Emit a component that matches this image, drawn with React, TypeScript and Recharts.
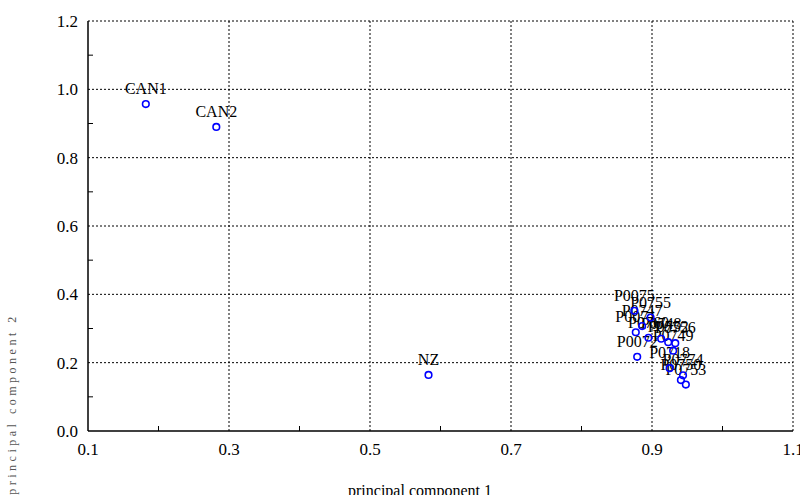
import { ScatterChart, Scatter, XAxis, YAxis, ReferenceLine } from 'recharts'

// sample names and their loadings on the first two principal components
const names = [
  'CAN1', 'CAN2', 'NZ',
  'P0075', 'P0755', 'P0747', 'P0071', 'P0760', 'P0748', 'P0752', 'P0756',
  'P0749', 'P0072', 'P0718', 'P0774', 'P0750', 'P0753',
]
const pc1 = [
  0.182, 0.282, 0.583,
  0.875, 0.898, 0.886, 0.877, 0.895, 0.913, 0.923, 0.933,
  0.930, 0.879, 0.925, 0.944, 0.941, 0.948,
]
const pc2 = [
  0.957, 0.89, 0.164,
  0.352, 0.332, 0.307, 0.289, 0.273, 0.270, 0.260, 0.257,
  0.235, 0.217, 0.184, 0.163, 0.149, 0.136,
]

const xMajor = [0.1, 0.3, 0.5, 0.7, 0.9, 1.1]
const xMinor = [0.2, 0.4, 0.6, 0.8, 1.0]
const yMajor = [0, 0.2, 0.4, 0.6, 0.8, 1.0, 1.2]
const yMinor = [0.1, 0.3, 0.5, 0.7, 0.9, 1.1]

const xTicks = [...xMajor, ...xMinor].sort((a, b) => a - b)
const yTicks = [...yMajor, ...yMinor].sort((a, b) => a - b)

const points = names.map((name, i) => ({ name, x: pc1[i], y: pc2[i] }))

const font = '"Liberation Serif", "Times New Roman", serif'

function BottomTick({ x, y, payload }: any) {
  if (xMinor.includes(payload.value)) {
    return <line x1={x} x2={x} y1={y} y2={y - 5} stroke="#000" />
  }
  return (
    <text x={x} y={y + 24} textAnchor="middle" fontSize={17} fontFamily={font} fill="#000">
      {payload.value.toFixed(1)}
    </text>
  )
}

function LeftTick({ x, y, payload }: any) {
  if (yMinor.includes(payload.value)) {
    return <line x1={x} x2={x + 5} y1={y} y2={y} stroke="#000" />
  }
  return (
    <text x={x - 10} y={y + 6} textAnchor="end" fontSize={17} fontFamily={font} fill="#000">
      {payload.value.toFixed(1)}
    </text>
  )
}

function TopTick({ x, y, payload }: any) {
  if (!xMinor.includes(payload.value)) return <g />
  return <line x1={x} x2={x} y1={y} y2={y + 5} stroke="#000" />
}

function RightTick({ x, y, payload }: any) {
  if (!yMinor.includes(payload.value)) return <g />
  return <line x1={x} x2={x - 5} y1={y} y2={y} stroke="#000" />
}

export default function App() {
  return (
    <div style={{ position: 'absolute', left: 0, top: 0, width: 800, height: 495, background: '#fff' }}>
      <ScatterChart width={800} height={495} margin={{ top: 21, right: 7, bottom: 0, left: 0 }}>
        <XAxis
          type="number"
          dataKey="x"
          domain={[0.1, 1.1]}
          ticks={xTicks}
          interval={0}
          height={64}
          tickSize={0}
          tickMargin={0}
          tickLine={false}
          axisLine={{ stroke: '#000', strokeWidth: 1.5 }}
          tick={BottomTick}
          label={{
            content: () => (
              <text x={420} y={496} textAnchor="middle" fontSize={16} fontFamily={font} fill="#000">
                principal component 1
              </text>
            ),
          }}
        />
        <YAxis
          type="number"
          dataKey="y"
          domain={[0, 1.2]}
          ticks={yTicks}
          interval={0}
          width={88}
          tickSize={0}
          tickMargin={0}
          tickLine={false}
          axisLine={{ stroke: '#000', strokeWidth: 1.5 }}
          tick={LeftTick}
          label={{
            content: () => (
              <text
                x={16}
                y={404}
                transform="rotate(-90, 16, 404)"
                textAnchor="middle"
                fontSize={12}
                letterSpacing={3.5}
                fontFamily={font}
                fill="#555"
              >
                principal component 2
              </text>
            ),
          }}
        />
        <XAxis
          xAxisId="top"
          orientation="top"
          type="number"
          domain={[0.1, 1.1]}
          ticks={xTicks}
          interval={0}
          height={0}
          tickSize={0}
          tickMargin={0}
          tickLine={false}
          axisLine={false}
          tick={TopTick}
        />
        <YAxis
          yAxisId="right"
          orientation="right"
          type="number"
          domain={[0, 1.2]}
          ticks={yTicks}
          interval={0}
          width={0}
          tickSize={0}
          tickMargin={0}
          tickLine={false}
          axisLine={false}
          tick={RightTick}
        />
        {xMajor.slice(1).map((v) => (
          <ReferenceLine key={'gx' + v} x={v} stroke="#000" strokeDasharray="2 2" />
        ))}
        {yMajor.slice(1).map((v) => (
          <ReferenceLine key={'gy' + v} y={v} stroke="#000" strokeDasharray="2 2" />
        ))}
        <Scatter
          data={points}
          isAnimationActive={false}
          shape={(p: any) => (
            <text x={p.cx} y={p.cy - 10} textAnchor="middle" fontSize={16} fontFamily={font} fill="#000">
              {p.payload.name}
            </text>
          )}
        />
        <Scatter
          data={points}
          isAnimationActive={false}
          shape={(p: any) => (
            <circle cx={p.cx} cy={p.cy} r={3.3} fill="none" stroke="#0000ff" strokeWidth={1.6} />
          )}
        />
      </ScatterChart>
    </div>
  )
}
